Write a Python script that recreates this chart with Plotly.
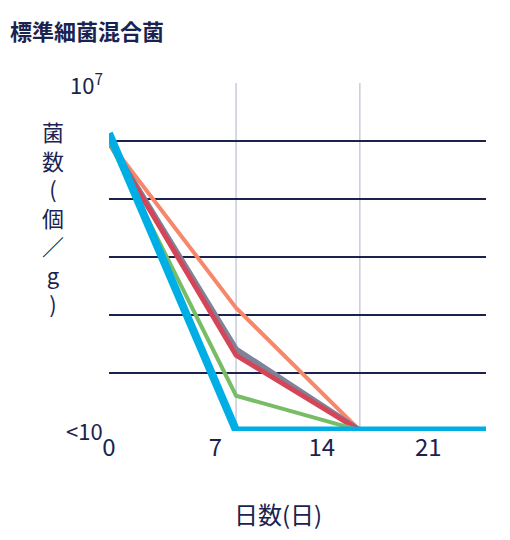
import plotly.graph_objects as go

days = [0, 8.36, 16.5, 24.8]
x_ticks = [0, 7, 14, 21]
series = [
    ("orange", [6.0, 3.12, 1.0], "#F7876B", 4),
    ("gray", [6.0, 2.4, 1.0], "#7D849A", 6),
    ("red", [6.0, 2.3, 1.0], "#D54558", 5),
    ("green", [6.0, 1.6, 1.0], "#78BC65", 4),
    ("cyan", [6.14, 1.0, 1.0, 1.0], "#00AEE6", 8),
]
navy = "#1A2350"
fig = go.Figure()
for name, vals, col, w in series:
    fig.add_trace(go.Scatter(x=days[:len(vals)], y=[10**v for v in vals], mode="lines",
                             line=dict(color=col, width=w), name=name, cliponaxis=False))
for xv in days[1:3]:
    fig.add_shape(type="line", x0=xv, x1=xv, y0=0, y1=1, yref="paper",
                  line=dict(color="#C8CCD8", width=1.5), layer="below")
pw, ph = 377, 348
fig.update_layout(
    width=510, height=540, showlegend=False, plot_bgcolor="white", paper_bgcolor="white",
    margin=dict(l=101, r=32, t=75, b=117, autoexpand=False),
    font=dict(family="Noto Sans CJK JP", color=navy),
    xaxis=dict(range=[0, 24.8], tickvals=x_ticks, ticktext=[str(t) for t in x_ticks],
               showgrid=False, zeroline=False, tickfont=dict(size=24, color=navy), ticklen=0, ticks=""),
    yaxis=dict(type="log", range=[0.99, 7.01], tickvals=[10**i for i in range(1, 8)], showticklabels=False,
               gridcolor=navy, gridwidth=2, zeroline=False),
)
fig.add_annotation(text="<b>標準細菌混合菌</b>", x=-101/pw, y=1+75/ph, xref="paper", yref="paper",
                   xanchor="left", yanchor="top", font=dict(size=22, color=navy), showarrow=False, yshift=-4)
fig.add_annotation(text="10<sup>7</sup>", x=0, y=7, xref="paper", yref="y", xanchor="right", yanchor="middle",
                   font=dict(size=22, color=navy), showarrow=False, xshift=-4)
fig.add_annotation(text="<10", x=0, y=1, xref="paper", yref="y", xanchor="right", yanchor="middle",
                   font=dict(size=22, color=navy), showarrow=False, xshift=-4)
fig.add_annotation(text="菌<br>数<br>(<br>個<br>／<br>g<br>)", x=-56/pw, y=0.5, xref="paper", yref="paper",
                   xanchor="center", yanchor="middle", font=dict(size=22, color=navy), showarrow=False,
                   yshift=40)
fig.add_annotation(text="日数(日)", x=0.5, y=0, xref="paper", yref="paper", xanchor="center", yanchor="top",
                   font=dict(size=24, color=navy), showarrow=False, yshift=-63, xshift=-20)
fig.write_html("out.html")
